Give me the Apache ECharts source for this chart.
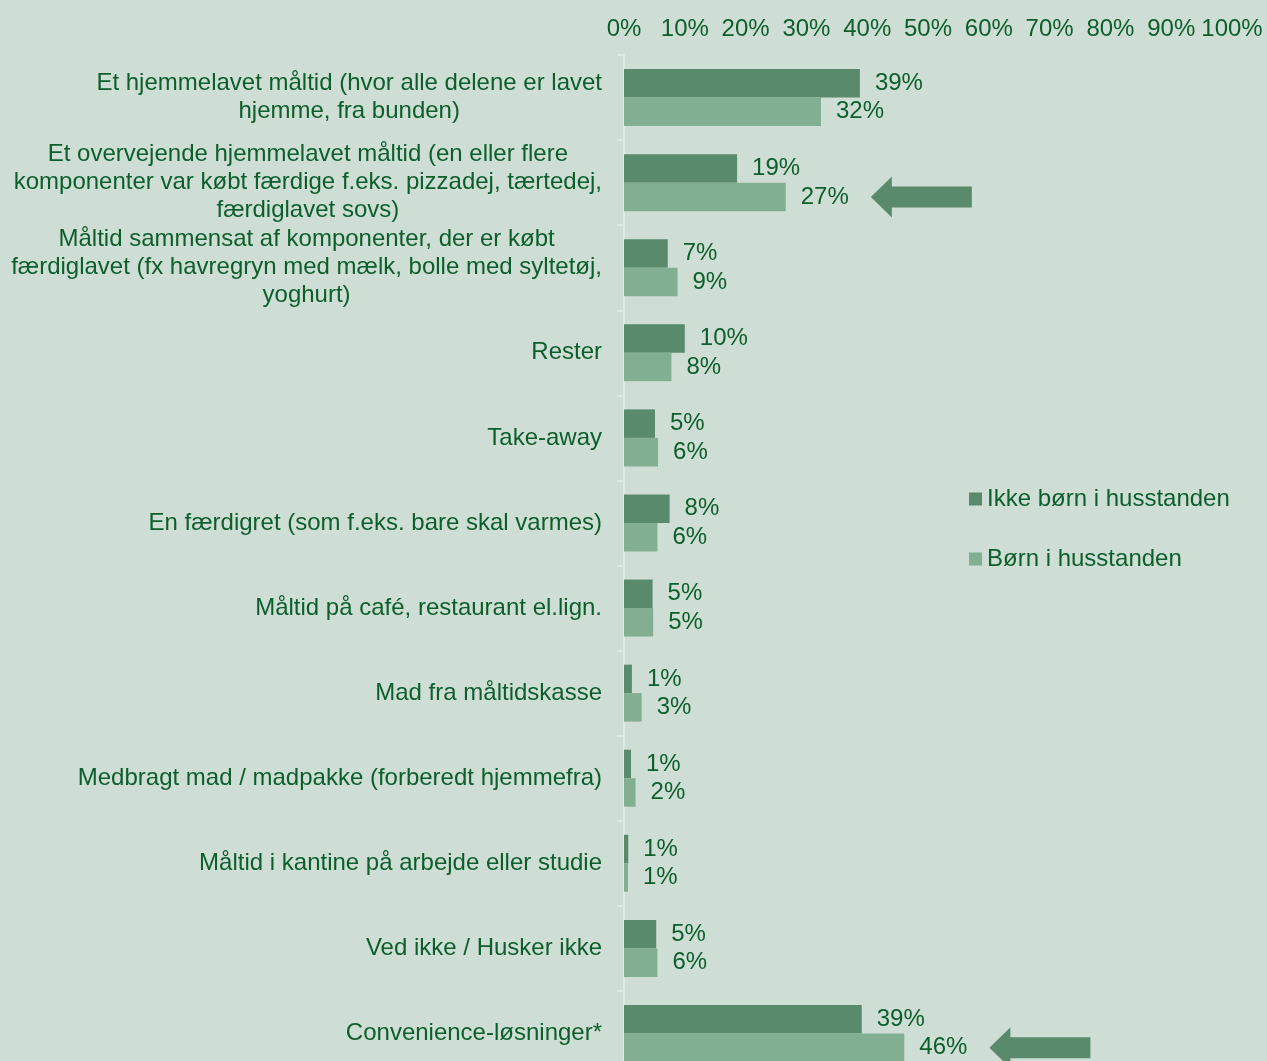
<!DOCTYPE html>
<html>
<head>
<meta charset="utf-8">
<title>Måltider</title>
<script src="https://cdn.jsdelivr.net/npm/echarts@6/dist/echarts.min.js"></script>
<style>
    html, body { margin: 0; padding: 0; background: #cfded4; overflow: hidden; }
    /* lidt højere end vinduet: nederste række er beskåret i originalen */
    #chart { width: 1267px; height: 1090px; }
</style>
</head>
<body>
<div id="chart"></div>
<script>
    // kategorier (oppefra og ned)
    const categories = [
        'Et hjemmelavet måltid (hvor alle delene er lavet\nhjemme, fra bunden)',
        'Et overvejende hjemmelavet måltid (en eller flere\nkomponenter var købt færdige f.eks. pizzadej, tærtedej,\nfærdiglavet sovs)',
        'Måltid sammensat af komponenter, der er købt\nfærdiglavet (fx havregryn med mælk, bolle med syltetøj,\nyoghurt)',
        'Rester',
        'Take-away',
        'En færdigret (som f.eks. bare skal varmes)',
        'Måltid på café, restaurant el.lign.',
        'Mad fra måltidskasse',
        'Medbragt mad / madpakke (forberedt hjemmefra)',
        'Måltid i kantine på arbejde eller studie',
        'Ved ikke / Husker ikke',
        'Convenience-løsninger*'
    ];
    const seriesNames = ['Ikke børn i husstanden', 'Børn i husstanden'];
    // procent, aflæst fra søjlerne
    const ikkeBoern = [38.8, 18.6, 7.2, 10.0, 5.1, 7.5, 4.7, 1.3, 1.15, 0.7, 5.3, 39.1];
    const boern = [32.4, 26.6, 8.8, 7.8, 5.6, 5.5, 4.8, 2.9, 1.9, 0.66, 5.5, 46.1];
    const xTicks = [0, 100, 10]; // min, max, interval
    const arrowRows = [1, 11]; // rækker med pil

    const textColor = '#0c5e2c';
    const fontFamily = '"Liberation Sans", Arial, sans-serif';
    const fontSize = 24;
    const darkGreen = '#5a8a6c';
    const lightGreen = '#82ae91';

    const chart = echarts.init(document.getElementById('chart'));

    const arrowPath = 'path://M0,20.5 L21,0 L21,10 L101,10 L101,31 L21,31 L21,41 Z';

    const barLabel = {
        show: true,
        position: 'right',
        distance: 15,
        color: textColor,
        fontSize: fontSize,
        fontFamily: fontFamily,
        formatter: p => Math.round(p.value) + '%'
    };

    const option = {
        backgroundColor: '#cfded4',
        animation: false,
        grid: {
            left: 624,
            right: 35,
            top: 55,
            height: 1021
        },
        legend: {
            orient: 'vertical',
            left: 964,
            top: 482,
            itemWidth: 13,
            itemHeight: 13,
            itemGap: 36,
            icon: 'rect',
            textStyle: { color: textColor, fontSize: fontSize, fontFamily: fontFamily },
            data: seriesNames
        },
        xAxis: {
            type: 'value',
            position: 'top',
            min: xTicks[0],
            max: xTicks[1],
            interval: xTicks[2],
            splitLine: { show: false },
            axisLine: { show: false },
            axisTick: { show: false },
            axisLabel: {
                formatter: '{value}%',
                color: textColor,
                fontSize: fontSize,
                fontFamily: fontFamily,
                margin: 14
            }
        },
        yAxis: {
            type: 'category',
            inverse: true,
            data: categories,
            axisLine: { show: true, lineStyle: { color: '#e0e9e3', width: 2 } },
            axisTick: { show: true, length: 7, lineStyle: { color: '#e0e9e3', width: 2 } },
            axisLabel: {
                margin: 22,
                color: textColor,
                fontFamily: fontFamily,
                fontSize: fontSize,
                // linjerne centreres i blokken, blokken højrestilles mod aksen
                formatter: v => v.split('\n').map(l => '{c|' + l + '}').join('\n'),
                rich: {
                    c: { align: 'center', color: textColor, fontSize: fontSize, fontFamily: fontFamily, lineHeight: 28 }
                }
            }
        },
        series: [
            {
                name: seriesNames[0],
                type: 'bar',
                data: ikkeBoern,
                barWidth: 28.5,
                barGap: '0%',
                itemStyle: { color: darkGreen },
                label: barLabel
            },
            {
                name: seriesNames[1],
                type: 'bar',
                data: boern,
                barWidth: 28.5,
                barGap: '0%',
                itemStyle: { color: lightGreen },
                label: barLabel,
                markPoint: {
                    symbol: arrowPath,
                    symbolSize: [101, 41],
                    symbolKeepAspect: false,
                    symbolOffset: [50.5, 0],
                    itemStyle: { color: darkGreen },
                    label: { show: false },
                    data: arrowRows.map(i => ({ coord: [boern[i] + 14, i] }))
                }
            }
        ]
    };

    chart.setOption(option);
</script>
</body>
</html>
